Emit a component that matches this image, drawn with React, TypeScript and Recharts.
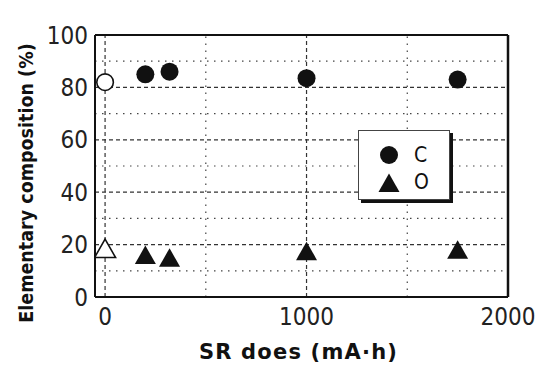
import { Legend, ReferenceLine, Scatter, ScatterChart, XAxis, YAxis } from 'recharts';

const seriesNames = ['C', 'O'];
const doses = [0, 200, 320, 1000, 1750];
const carbonValues = [82, 85, 86, 83.5, 83];
const oxygenValues = [18.5, 16, 15, 17.5, 18];
const untreatedCount = 1;

const xTicks = [0, 1000, 2000];
const yTicks = [0, 20, 40, 60, 80, 100];
const xMajorGrid = [0, 1000];
const xMinorGrid = [500, 1500];
const yMajorGrid = [20, 40, 60, 80];
const yMinorGrid = [10, 30, 50, 70, 90];

const FONT = '"DejaVu Sans Condensed", "Liberation Sans", sans-serif';
const BOLD_FONT = '"DejaVu Sans", "Liberation Sans", sans-serif';

const toPoints = (values: number[]) => doses.map((dose, i) => ({ dose, value: values[i] }));
const carbonPoints = toPoints(carbonValues);
const oxygenPoints = toPoints(oxygenValues);

function Circle({ cx, cy, open }: { cx?: number; cy?: number; open?: boolean }) {
  return <circle cx={cx} cy={cy} r={open ? 8.3 : 9} fill={open ? '#fff' : '#111'} stroke="#111" strokeWidth={open ? 1.6 : 0} />;
}

function Triangle({ cx = 0, cy = 0, open }: { cx?: number; cy?: number; open?: boolean }) {
  const d = `M${cx},${cy - 9.5} L${cx + 10.5},${cy + 9} L${cx - 10.5},${cy + 9} Z`;
  return <path d={d} fill={open ? '#fff' : '#111'} stroke="#111" strokeWidth={open ? 1.6 : 0} strokeLinejoin="miter" />;
}

function LegendBox() {
  return (
    <div
      style={{
        width: 90,
        height: 68,
        background: '#fff',
        border: '1px solid #444',
        boxShadow: '3px 3px 0 #111',
        fontFamily: FONT,
        fontSize: 21,
        color: '#111',
      }}
    >
      {seriesNames.map((name, i) => (
        <div key={name} style={{ display: 'flex', alignItems: 'center', height: 27, marginTop: i === 0 ? 10 : 0 }}>
          <svg width={22} height={22} style={{ marginLeft: 19 }}>
            {i === 0 ? <Circle cx={11} cy={11} /> : <Triangle cx={11} cy={12} />}
          </svg>
          <span style={{ marginLeft: 14, lineHeight: '22px' }}>{name}</span>
        </div>
      ))}
    </div>
  );
}

function YLabel({ viewBox }: any) {
  const cx = 33;
  const cy = viewBox.y + viewBox.height / 2 + 17;
  return (
    <text
      x={cx}
      y={cy}
      transform={`rotate(-90 ${cx} ${cy})`}
      textAnchor="middle"
      fill="#111"
      fontSize={19.5}
      fontWeight="bold"
      fontFamily={FONT}
    >
      Elementary composition (%)
    </text>
  );
}

export default function App() {
  return (
    <div style={{ position: 'absolute', left: 0, top: 0, background: '#fff' }}>
      <ScatterChart width={538} height={367} margin={{ top: 35, right: 30, left: 0, bottom: 0 }}>
        <XAxis
          type="number"
          dataKey="dose"
          domain={[-50, 2000]}
          ticks={xTicks}
          allowDataOverflow
          height={70}
          tickLine={false}
          tickSize={9}
          tickMargin={2}
          axisLine={{ stroke: '#111', strokeWidth: 2 }}
          tick={{ fill: '#222', fontSize: 24, fontFamily: FONT }}
          label={{
            value: 'SR does (mA·h)',
            position: 'insideBottom',
            offset: 8,
            dx: -3,
            style: { fill: '#111', fontSize: 21, fontWeight: 'bold', fontFamily: BOLD_FONT, letterSpacing: 1.2 },
          }}
        />
        <YAxis
          type="number"
          dataKey="value"
          domain={[0, 100]}
          ticks={yTicks}
          width={95}
          tickLine={false}
          tickSize={5}
          tickMargin={2}
          axisLine={{ stroke: '#111', strokeWidth: 2 }}
          tick={{ fill: '#222', fontSize: 24, fontFamily: FONT }}
          label={{ content: (props: any) => <YLabel {...props} /> }}
        />
        {yMinorGrid.map((v) => (
          <ReferenceLine key={`ym${v}`} y={v} stroke="#444" strokeWidth={1.2} strokeDasharray="1.5 5.5" />
        ))}
        {xMinorGrid.map((v) => (
          <ReferenceLine key={`xm${v}`} x={v} stroke="#444" strokeWidth={1.2} strokeDasharray="1.5 5.5" />
        ))}
        {yMajorGrid.map((v) => (
          <ReferenceLine key={`yM${v}`} y={v} stroke="#333" strokeWidth={1.2} strokeDasharray="4 3" />
        ))}
        {xMajorGrid.map((v) => (
          <ReferenceLine key={`xM${v}`} x={v} stroke="#333" strokeWidth={1.2} strokeDasharray="4 3" />
        ))}
        <ReferenceLine y={100} stroke="#111" strokeWidth={2} />
        <ReferenceLine x={2000} stroke="#111" strokeWidth={2.5} />
        <Scatter
          name={seriesNames[0]}
          data={carbonPoints.slice(untreatedCount)}
          isAnimationActive={false}
          shape={(p: any) => <Circle cx={p.cx} cy={p.cy} />}
        />
        <Scatter
          name={`${seriesNames[0]} untreated`}
          data={carbonPoints.slice(0, untreatedCount)}
          isAnimationActive={false}
          shape={(p: any) => <Circle cx={p.cx} cy={p.cy} open />}
        />
        <Scatter
          name={seriesNames[1]}
          data={oxygenPoints.slice(untreatedCount)}
          isAnimationActive={false}
          shape={(p: any) => <Triangle cx={p.cx} cy={p.cy} />}
        />
        <Scatter
          name={`${seriesNames[1]} untreated`}
          data={oxygenPoints.slice(0, untreatedCount)}
          isAnimationActive={false}
          shape={(p: any) => <Triangle cx={p.cx} cy={p.cy} open />}
        />
        <Legend
          layout="vertical"
          align="center"
          verticalAlign="middle"
          content={() => <LegendBox />}
          wrapperStyle={{ position: 'absolute', left: 358, top: 130, width: 'auto' }}
        />
      </ScatterChart>
    </div>
  );
}
